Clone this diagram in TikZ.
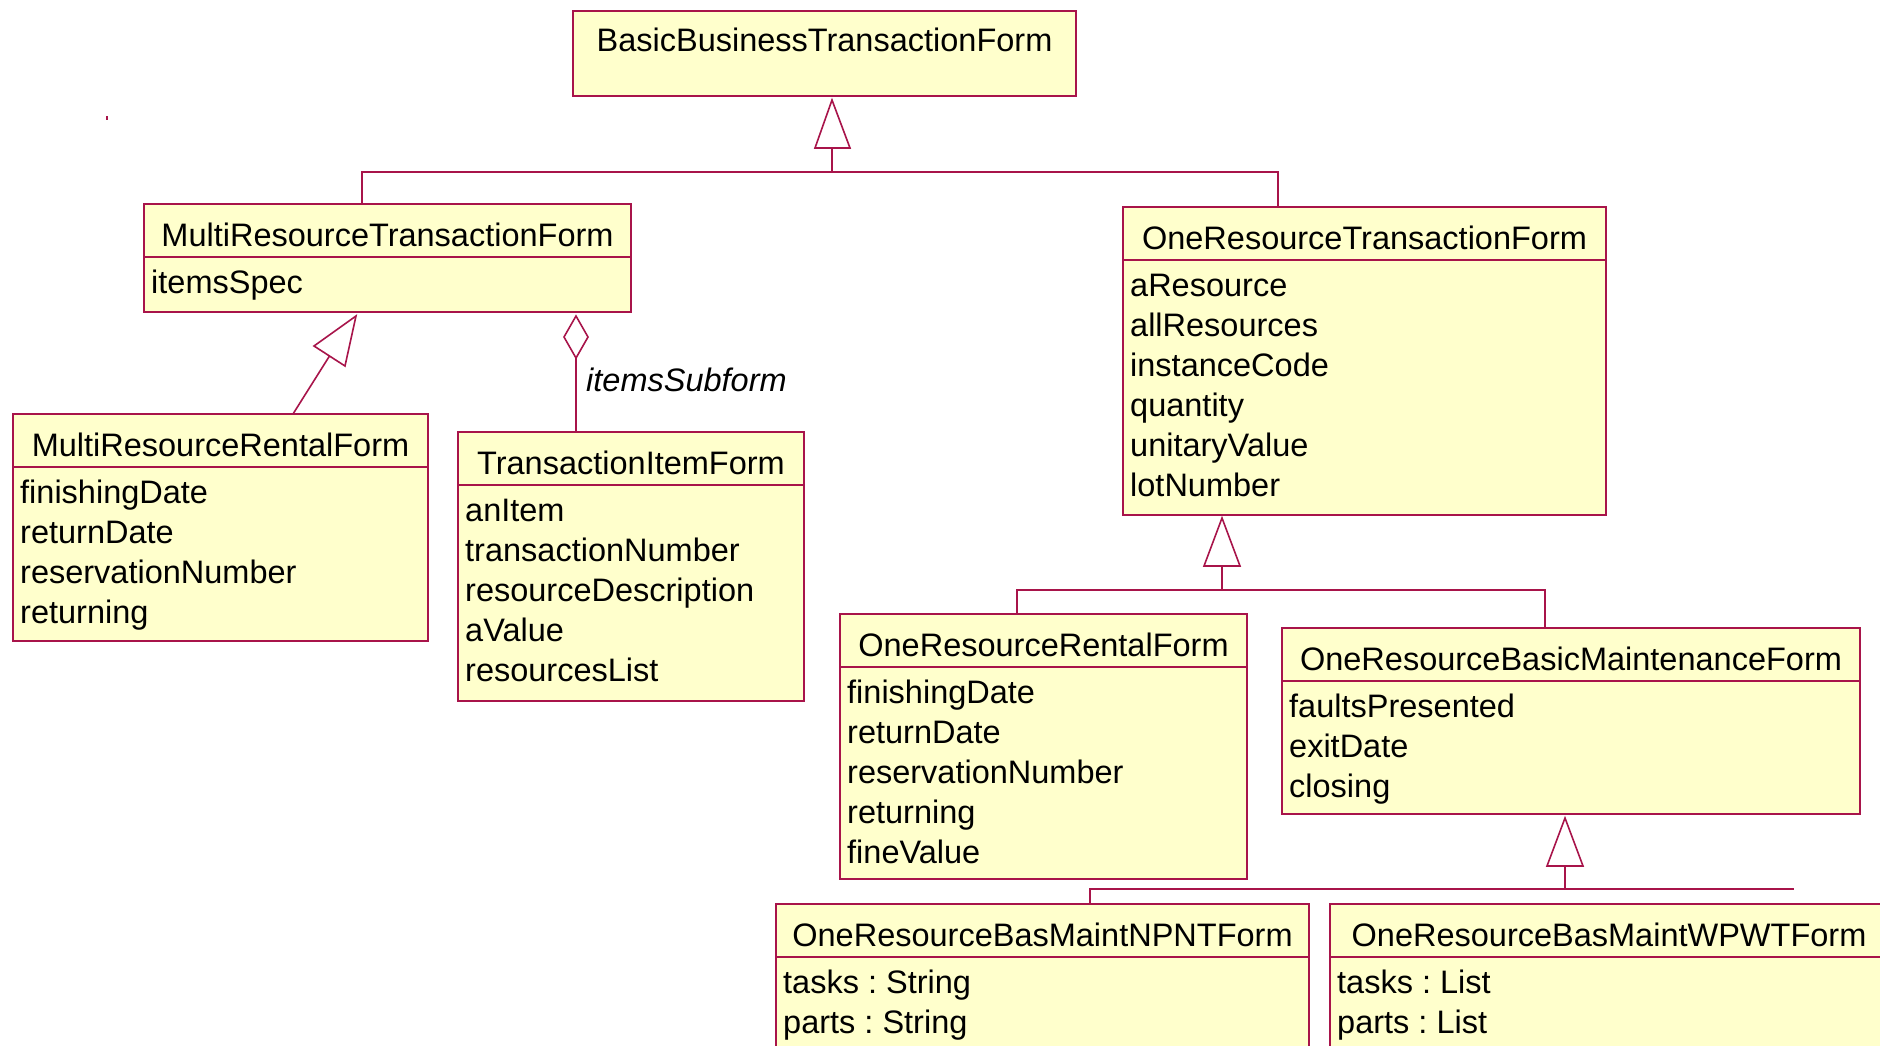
\documentclass[tikz,border=0pt]{standalone}
\usepackage{fontspec}
\usetikzlibrary{calc}
\newfontfamily\umlfont{Liberation Sans}
\definecolor{umlred}{HTML}{A8144A}
\definecolor{umlfill}{HTML}{FFFFCC}
\tikzset{
  umlline/.style={draw=umlred, line width=1.6pt},
  cls/.style={draw=umlred, fill=umlfill, line width=1.6pt, inner sep=0pt, outer sep=0pt, rectangle},
  ttl/.style={font=\umlfont\fontsize{32.5}{40}\selectfont\frenchspacing, inner sep=0pt, anchor=base},
  attr/.style={font=\umlfont\fontsize{32.5}{40}\selectfont\frenchspacing, inner sep=0pt, anchor=base west},
  rolelabel/.style={font=\umlfont\fontsize{32.5}{40}\selectfont\itshape, inner sep=0pt, anchor=base west},
  gentri/.style={draw=umlred, fill=white, line width=1.6pt, line join=miter},
}
\newcommand\umlclass[7]{%
  \node[cls, anchor=north west, minimum width={#4-#2}, minimum height={#5-#3}] (#1) at (#2,#3) {};
  \node[ttl] (#1-title) at ({(#2+#4)/2},{#3+42}) {#6};
  \draw[umlline] ($(#1.north west)+(0,53)$) -- ($(#1.north east)+(0,53)$);
  \foreach \a [count=\i] in {#7} {
    \node[attr] (#1-a\i) at ($(#1.north west)+(7,{89+40*(\i-1)})$) {\a};
  }%
}
\begin{document}
\begin{tikzpicture}[x=1pt, y=-1pt]
\useasboundingbox (0,0) rectangle (1880,1046);
\clip (0,0) rectangle (1880,1046);
\fill[white] (0,0) rectangle (1880,1046);
% stray dot
\fill[umlred] (106,116) rectangle (108,120);

% top class (title only)
\node[cls, anchor=north west, minimum width=503, minimum height=85] (bbtf) at (573,11) {};
\node[ttl] (bbtf-title) at (824.5,52) {BasicBusinessTransactionForm};

\umlclass{mrtf}{144}{204}{631}{312}{MultiResourceTransactionForm}{itemsSpec}
\umlclass{ortf}{1123}{207}{1606}{515}{OneResourceTransactionForm}{aResource,allResources,instanceCode,quantity,unitaryValue,lotNumber}
\umlclass{mrrf}{13}{414}{428}{641}{MultiResourceRentalForm}{finishingDate,returnDate,reservationNumber,returning}
\umlclass{tif}{458}{432}{804}{701}{TransactionItemForm}{anItem,transactionNumber,resourceDescription,aValue,resourcesList}
\umlclass{orrf}{840}{614}{1247}{879}{OneResourceRentalForm}{finishingDate,returnDate,reservationNumber,returning,fineValue}
\umlclass{orbmf}{1282}{628}{1860}{814}{OneResourceBasicMaintenanceForm}{faultsPresented,exitDate,closing}
\umlclass{npnt}{776}{904}{1309}{1100}{OneResourceBasMaintNPNTForm}{tasks : String,parts : String}
\umlclass{wpwt}{1330}{904}{1888}{1100}{OneResourceBasMaintWPWTForm}{tasks : List,parts : List}

% generalization: BBTF <- MRTF, ORTF
\coordinate (g1tip) at (832,100);
\coordinate (g1base) at (832,148);
\coordinate (g1bus) at (832,172);
\coordinate (g1l) at (362,172);
\coordinate (g1r) at (1278,172);
\draw[umlline] (g1base) -- (g1bus);
\draw[umlline] (g1l |- mrtf.north) -- (g1l) -- (g1r) -- (g1r |- ortf.north);
\draw[gentri] (g1tip) -- (815,148) -- (850,148) -- cycle;

% generalization: MRTF <- MRRF
\coordinate (g2tip) at (356,316);
\coordinate (g2base) at (329.5,356);
\coordinate (g2end) at (293,414);
\draw[umlline] (g2base) -- (g2end);
\draw[gentri] (g2tip) -- (314,346) -- (345,366) -- cycle;

% aggregation: MRTF <>- TIF
\coordinate (agtop) at (576,316);
\coordinate (agbot) at (576,358);
\draw[umlline] (agbot) -- (agbot |- tif.north);
\draw[gentri] (agtop) -- (564,337) -- (agbot) -- (588,337) -- cycle;
\node[rolelabel] (role) at (586,391) {itemsSubform};

% generalization: ORTF <- ORRF, ORBMF
\coordinate (g3tip) at (1222,518);
\coordinate (g3base) at (1222,566);
\coordinate (g3bus) at (1222,590);
\coordinate (g3l) at (1017,590);
\coordinate (g3r) at (1545,590);
\draw[umlline] (g3base) -- (g3bus);
\draw[umlline] (g3l |- orrf.north) -- (g3l) -- (g3r) -- (g3r |- orbmf.north);
\draw[gentri] (g3tip) -- (1204,566) -- (1240,566) -- cycle;

% generalization: ORBMF <- NPNT (WPWT)
\coordinate (g4tip) at (1565,818);
\coordinate (g4base) at (1565,866);
\coordinate (g4bus) at (1565,889);
\coordinate (g4l) at (1090,889);
\coordinate (g4r) at (1794,889);
\draw[umlline] (g4base) -- (g4bus);
\draw[umlline] (g4l |- npnt.north) -- (g4l) -- (g4r);
\draw[gentri] (g4tip) -- (1547,866) -- (1583,866) -- cycle;
\end{tikzpicture}
\end{document}
